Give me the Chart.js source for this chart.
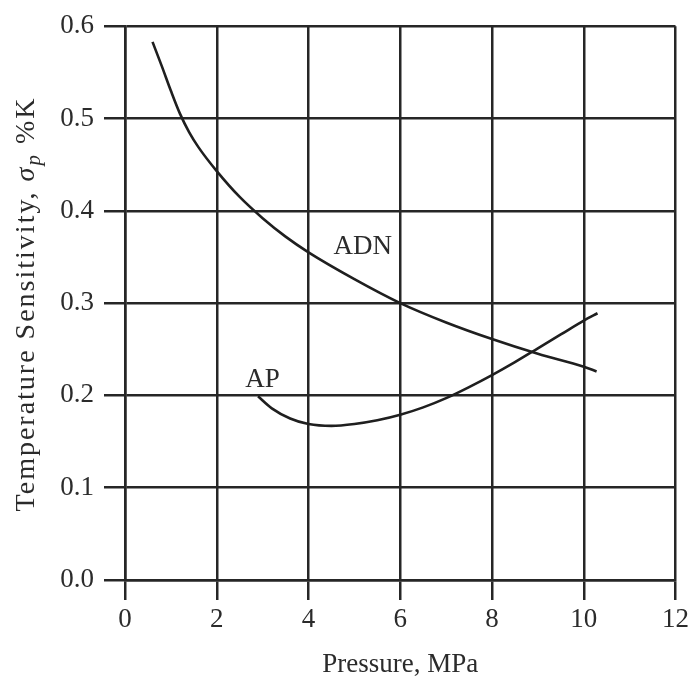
<!DOCTYPE html>
<html>
<head>
<meta charset="utf-8">
<script src="https://cdn.jsdelivr.net/npm/chart.js@4/dist/chart.umd.min.js"></script>
<style>
  html, body { margin: 0; padding: 0; background: #fff; }
  canvas { display: block; }
</style>
</head>
<body>
<canvas id="chartCanvas" width="693" height="679"></canvas>
<script>
// Data (pressure in MPa, sensitivity in %/K)
const adnPressure = [0.6, 0.8, 1.0, 1.2, 1.4, 1.6, 2.0, 2.5, 3.0, 3.5, 4.0, 5.0, 6.0, 7.0, 8.0, 9.0, 10.0, 10.28];
const adnSigma    = [0.583, 0.557, 0.530, 0.505, 0.485, 0.469, 0.443, 0.415, 0.392, 0.372, 0.355, 0.326, 0.300, 0.279, 0.261, 0.245, 0.231, 0.226];

const apPressure = [2.9, 3.2, 3.6, 4.0, 4.5, 5.0, 5.5, 6.0, 6.5, 7.0, 7.5, 8.0, 8.5, 9.0, 9.5, 10.0, 10.3];
const apSigma    = [0.199, 0.186, 0.175, 0.169, 0.167, 0.169, 0.173, 0.179, 0.187, 0.197, 0.209, 0.222, 0.236, 0.251, 0.266, 0.281, 0.289];

const xTicks = [0, 2, 4, 6, 8, 10, 12];
const yTicks = [0.0, 0.1, 0.2, 0.3, 0.4, 0.5, 0.6];

const curveLabels = ['ADN', 'AP'];
const curveLabelAt = [[5.18, 0.361], [3.0, 0.217]];

const ink = '#262626';
const textInk = '#2b2b2b';
const serif = '"Liberation Serif", "Times New Roman", serif';

function toPoints(xs, ys) {
    return xs.map((x, i) => ({ x: x, y: ys[i] }));
}

// curve names and rotated y title with italic sigma / subscript p
const annotations = {
    id: 'annotations',
    afterDraw(chart) {
        const ctx = chart.ctx;
        const xs = chart.scales.x;
        const ys = chart.scales.y;
        ctx.save();
        ctx.fillStyle = textInk;
        ctx.font = '27px ' + serif;
        ctx.textAlign = 'center';
        ctx.textBaseline = 'middle';
        curveLabels.forEach((t, i) => {
            ctx.fillText(t, xs.getPixelForValue(curveLabelAt[i][0]), ys.getPixelForValue(curveLabelAt[i][1]));
        });

        const parts = [
            { t: 'Temperature Sensitivity, ', f: '28px ' + serif, dy: 0 },
            { t: 'σ', f: 'italic 28px ' + serif, dy: 0 },
            { t: 'p', f: 'italic 21px ' + serif, dy: 6 },
            { t: ' %K', f: '28px ' + serif, dy: 0 }
        ];
        if ('letterSpacing' in ctx) ctx.letterSpacing = '2px';
        let total = 0;
        parts.forEach(p => { ctx.font = p.f; p.w = ctx.measureText(p.t).width; total += p.w; });
        ctx.translate(34, 304);
        ctx.rotate(-Math.PI / 2);
        ctx.textAlign = 'left';
        ctx.textBaseline = 'alphabetic';
        let pos = -total / 2;
        parts.forEach(p => {
            ctx.font = p.f;
            ctx.fillText(p.t, pos, p.dy);
            pos += p.w;
        });
        ctx.restore();
    }
};

const ctx = document.getElementById('chartCanvas').getContext('2d');
const chart = new Chart(ctx, {
    type: 'line',
    data: {
        datasets: [
            {
                label: 'ADN',
                data: toPoints(adnPressure, adnSigma),
                borderColor: '#1f1f1f',
                borderWidth: 2.6,
                pointRadius: 0,
                fill: false,
                cubicInterpolationMode: 'monotone'
            },
            {
                label: 'AP',
                data: toPoints(apPressure, apSigma),
                borderColor: '#1f1f1f',
                borderWidth: 2.6,
                pointRadius: 0,
                fill: false,
                cubicInterpolationMode: 'monotone'
            }
        ]
    },
    options: {
        responsive: false,
        animation: false,
        layout: { padding: { top: 22, right: 14, left: 0, bottom: 0 } },
        plugins: {
            legend: { display: false },
            tooltip: { enabled: false }
        },
        scales: {
            x: {
                type: 'linear',
                min: 0,
                max: 12,
                afterFit: (scale) => { scale.height = 99; },
                afterBuildTicks: (scale) => { scale.ticks = xTicks.map(v => ({ value: v })); },
                grid: { color: ink, lineWidth: 2.5, tickLength: 20, tickColor: ink },
                border: { color: ink, width: 2.5 },
                ticks: {
                    color: textInk,
                    font: { family: serif, size: 27 },
                    padding: 4,
                    maxRotation: 0,
                    callback: (v) => String(v)
                },
                title: {
                    display: true,
                    text: 'Pressure, MPa',
                    color: textInk,
                    font: { family: serif, size: 27 },
                    padding: { top: 0, bottom: -2 }
                }
            },
            y: {
                type: 'linear',
                min: 0,
                max: 0.6,
                afterFit: (scale) => { scale.width = 125; },
                afterBuildTicks: (scale) => { scale.ticks = yTicks.map(v => ({ value: v })); },
                grid: { color: ink, lineWidth: 2.5, tickLength: 21, tickColor: ink },
                border: { color: ink, width: 2.5 },
                ticks: {
                    color: textInk,
                    font: { family: serif, size: 27 },
                    padding: 10,
                    callback: (v) => Number(v).toFixed(1)
                }
            }
        }
    },
    plugins: [annotations]
});
</script>
</body>
</html>
